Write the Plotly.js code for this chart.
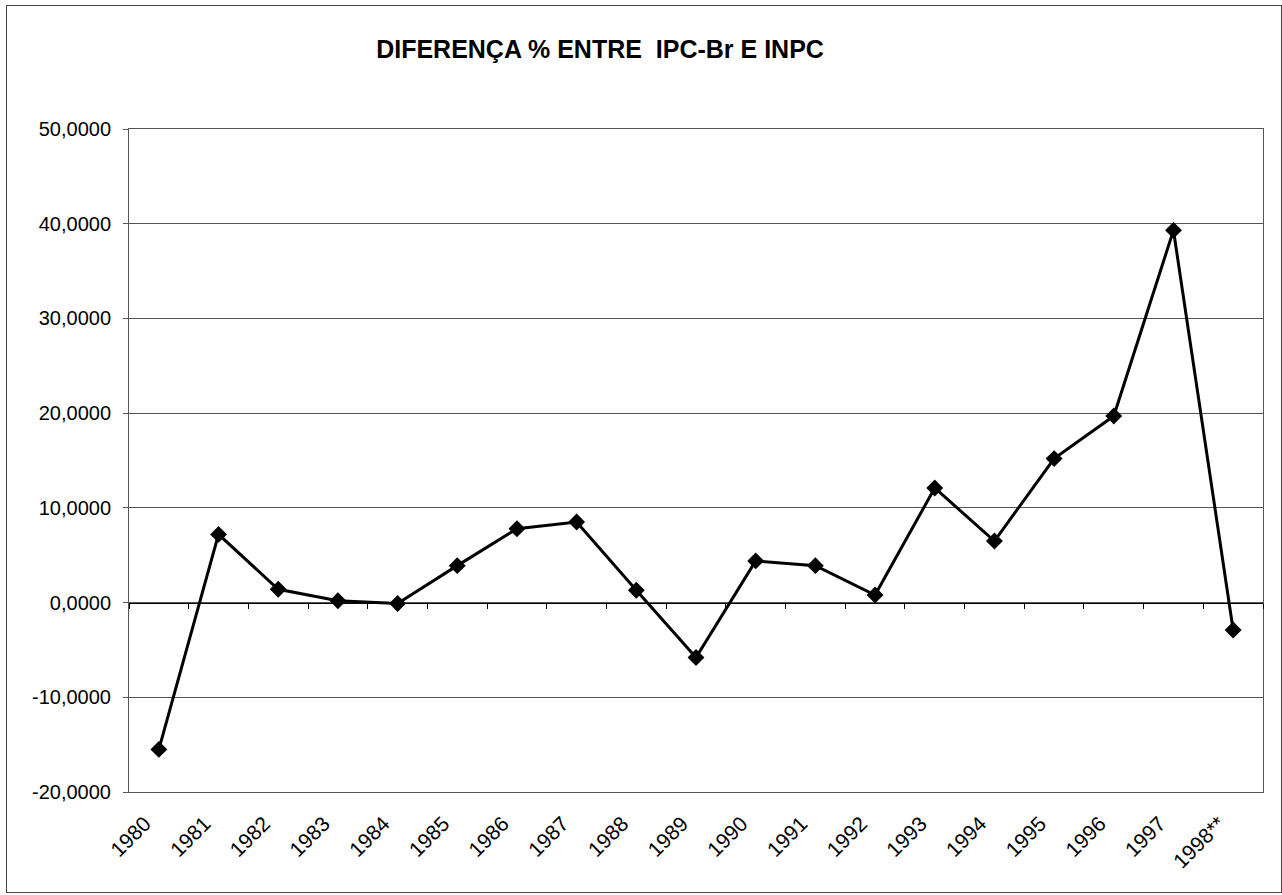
<!DOCTYPE html>
<html>
<head>
<meta charset="utf-8">
<script src="https://cdn.plot.ly/plotly-3.0.1.min.js"></script>
<style>
  html, body { margin: 0; padding: 0; background: #fff; }
  #wrap { position: relative; width: 1282px; height: 895px; }
  #chart { position: absolute; left: 0; top: 0; width: 1282px; height: 895px; }
  #frame { position: absolute; left: 6px; top: 5px; width: 1274px; height: 886px;
           border: 1px solid #444; pointer-events: none; }
</style>
</head>
<body>
<div id="wrap">
  <div id="chart"></div>
  <div id="frame"></div>
</div>
<script>
// ---- data ----
const years = ['1980','1981','1982','1983','1984','1985','1986','1987','1988','1989',
               '1990','1991','1992','1993','1994','1995','1996','1997','1998**'];
const diffPct = [-15.5, 7.2, 1.4, 0.2, -0.1, 3.9, 7.8, 8.5, 1.3, -5.8,
                 4.4, 3.9, 0.8, 12.1, 6.5, 15.2, 19.7, 39.3, -2.9];
const yTickVals = [-20, -10, 0, 10, 20, 30, 40, 50];
const yTickText = ['-20,0000','-10,0000','0,0000','10,0000','20,0000','30,0000','40,0000','50,0000'];
const titleText = 'DIFERENÇA % ENTRE \u00A0IPC-Br E INPC';

const FONT = 'Liberation Sans, Arial, Helvetica, sans-serif';
const yMin = -20, yMax = 50;
const xRange = [-0.5, years.length - 0.5];

const traces = [
  {
    x: years, y: diffPct, type: 'scatter', mode: 'lines+markers',
    line: { color: '#000', width: 3 },
    marker: { symbol: 'diamond', size: 13, color: '#000' },
    xaxis: 'x', yaxis: 'y', showlegend: false, hoverinfo: 'x+y'
  },
  {
    // carrier for the axis drawn across the zero line
    x: years, y: diffPct, type: 'scatter', mode: 'lines',
    line: { color: 'rgba(0,0,0,0)', width: 0 },
    xaxis: 'x2', yaxis: 'y', showlegend: false, hoverinfo: 'skip'
  }
];

const layout = {
  width: 1282, height: 895,
  margin: { l: 129, r: 19, t: 129, b: 103 },
  paper_bgcolor: '#fff', plot_bgcolor: '#fff',
  font: { family: FONT, color: '#000', size: 20 },
  title: {
    text: titleText,
    font: { family: FONT, size: 25, weight: 'bold', color: '#000' },
    xref: 'container', yref: 'container',
    x: 600 / 1282, xanchor: 'center',
    y: 1 - 49 / 895, yanchor: 'middle'
  },
  xaxis: {
    type: 'category', categoryorder: 'array', categoryarray: years,
    range: xRange, autorange: false,
    showgrid: false, zeroline: false,
    showline: true, mirror: true, linecolor: '#555', linewidth: 1,
    ticks: '', tickangle: -45,
    ticklabelstandoff: 10, ticklabelshift: -14,
    tickfont: { family: FONT, size: 21, color: '#000' }
  },
  xaxis2: {
    type: 'category', categoryorder: 'array', categoryarray: years,
    range: xRange, autorange: false,
    overlaying: 'x', anchor: 'free', position: (0 - yMin) / (yMax - yMin),
    showgrid: false, zeroline: false,
    showline: true, linecolor: '#000', linewidth: 1,
    ticks: 'outside', tickson: 'boundaries', ticklen: 5, tickcolor: '#000', tickwidth: 1,
    showticklabels: false
  },
  yaxis: {
    range: [yMin, yMax], tickvals: yTickVals, ticktext: yTickText,
    showgrid: true, gridcolor: '#555', gridwidth: 1,
    zeroline: false,
    showline: true, mirror: true, linecolor: '#555', linewidth: 1,
    ticks: 'outside', ticklen: 5, tickcolor: '#555',
    ticklabelstandoff: 8,
    tickfont: { family: FONT, size: 20, color: '#000' }
  },
  showlegend: false
};

Plotly.newPlot('chart', traces, layout, { displayModeBar: false, staticPlot: true });
</script>
</body>
</html>
